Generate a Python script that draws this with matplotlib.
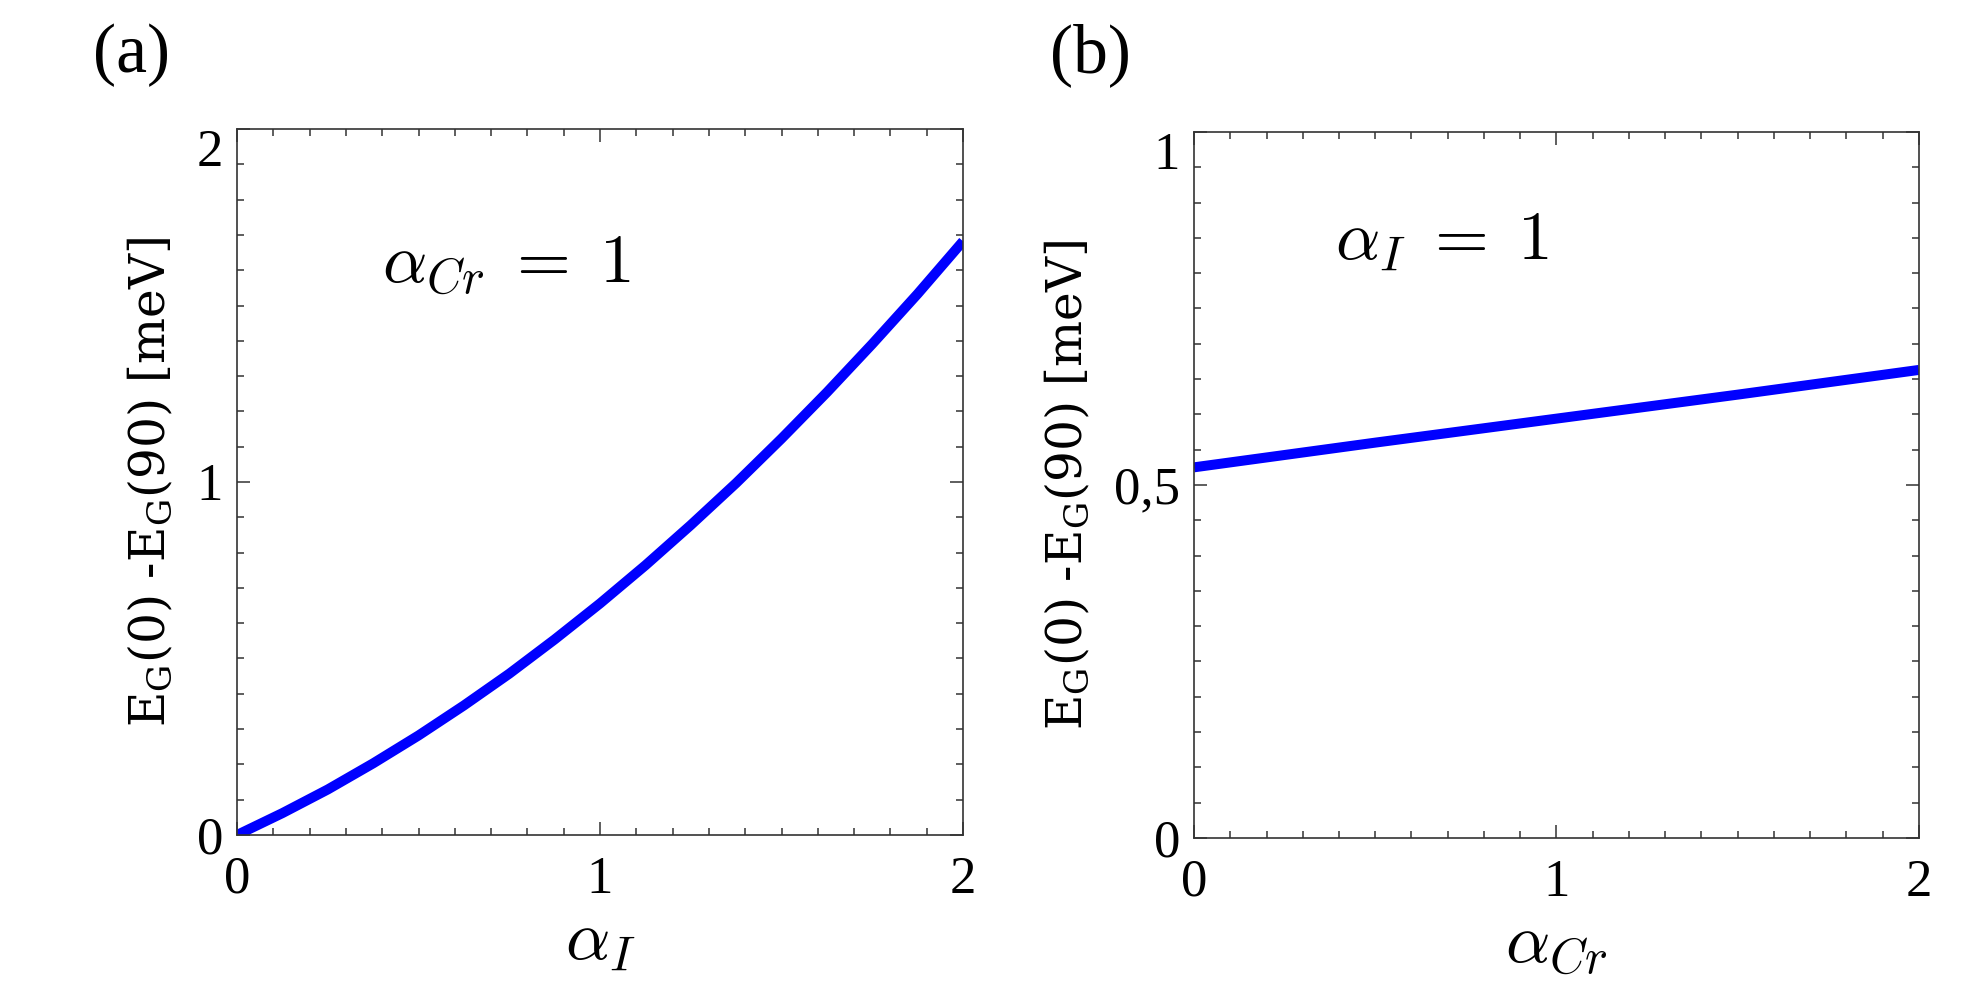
#!/usr/bin/env python3
"""Two-panel figure: E_G(0) - E_G(90) versus alpha_I and alpha_Cr."""

import matplotlib
matplotlib.use("Agg")
import matplotlib.pyplot as plt
from matplotlib.ticker import MultipleLocator, FixedLocator

# (a) energy difference vs alpha_I at alpha_Cr = 1
alpha_i = [0.0, 0.125, 0.25, 0.375, 0.5, 0.625, 0.75, 0.875, 1.0,
           1.125, 1.25, 1.375, 1.5, 1.625, 1.75, 1.875, 2.0]
de_a = [0.000, 0.062, 0.129, 0.203, 0.282, 0.367, 0.457, 0.554, 0.656,
        0.764, 0.878, 0.997, 1.123, 1.254, 1.391, 1.533, 1.682]

# (b) energy difference vs alpha_Cr at alpha_I = 1
alpha_cr = [0.0, 0.5, 1.0, 1.5, 2.0]
de_b = [0.525, 0.560, 0.594, 0.628, 0.663]

xticks = [0, 1, 2]
yticks_a = [0, 1, 2]
yticks_b = [0, 0.5, 1]
yticklabels_b = ["0", "0,5", "1"]

SERIF = "Liberation Serif"
BLUE = "#0000ff"
SPINE = "#333333"
YLABEL = r"E$_\mathrm{G}$(0) -E$_\mathrm{G}$(90) [meV]"


def style_axes(ax, ymax, yminor):
    ax.set_xlim(0, 2)
    ax.set_ylim(0, ymax)
    ax.xaxis.set_major_locator(FixedLocator(xticks))
    ax.xaxis.set_minor_locator(MultipleLocator(0.1))
    ax.yaxis.set_minor_locator(MultipleLocator(yminor))
    ax.tick_params(which="both", direction="in", top=True, right=True,
                   color=SPINE, width=1.1)
    ax.tick_params(which="major", length=9.5)
    ax.tick_params(which="minor", length=5)
    ax.tick_params(axis="x", which="major", pad=15)
    ax.tick_params(axis="y", which="major", pad=10)
    for sp in ax.spines.values():
        sp.set_color(SPINE)
        sp.set_linewidth(1.2)


fig = plt.figure(figsize=(19.69, 9.97), dpi=100)
ax_a = fig.add_axes([0.1204, 0.1625, 0.3687, 0.7081])
ax_b = fig.add_axes([0.6064, 0.1595, 0.3682, 0.7081])

# ---- panel (a)
ax_a.plot(alpha_i, de_a, color=BLUE, lw=7.2, solid_capstyle="butt")
style_axes(ax_a, 2, 0.1)
ax_a.set_yticks(yticks_a)
ax_a.set_yticklabels([str(v) for v in yticks_a])
ax_a.set_xticklabels([str(v) for v in xticks])
ax_a.set_xlabel(r"$\alpha_I$", fontsize=50, math_fontfamily="cm", labelpad=2)
ax_a.set_ylabel(YLABEL, family="DejaVu Serif", math_fontfamily="dejavuserif",
                fontsize=35, labelpad=16)
ax_a.text(0.20, 0.81, r"$\alpha_{Cr}\;=\;1$", transform=ax_a.transAxes,
          fontsize=50, math_fontfamily="cm", va="center", ha="left")

# ---- panel (b)
ax_b.plot(alpha_cr, de_b, color=BLUE, lw=7.2, solid_capstyle="butt")
style_axes(ax_b, 1, 0.05)
ax_b.set_yticks(yticks_b)
ax_b.set_yticklabels(yticklabels_b)
ax_b.set_xticklabels([str(v) for v in xticks])
ax_b.set_xlabel(r"$\alpha_{Cr}$", fontsize=50, math_fontfamily="cm", labelpad=2)
ax_b.set_ylabel(YLABEL, family="DejaVu Serif", math_fontfamily="dejavuserif",
                fontsize=35, labelpad=16)
ax_b.text(0.195, 0.846, r"$\alpha_I\;=\;1$", transform=ax_b.transAxes,
          fontsize=50, math_fontfamily="cm", va="center", ha="left")

for ax in (ax_a, ax_b):
    for lab in ax.get_xticklabels() + ax.get_yticklabels():
        lab.set_family(SERIF)
        lab.set_fontsize(38)
    # top y label sits inside the frame, hanging from the top edge
    ax.yaxis.get_major_ticks()[-1].label1.set_va("top")

fig.text(132 / 1969, 1 - 55 / 997, "(a)", family=SERIF, fontsize=50,
         ha="center", va="center")
fig.text(1090 / 1969, 1 - 55 / 997, "(b)", family=SERIF, fontsize=50,
         ha="center", va="center")

fig.savefig("out.png", dpi=100)
plt.close(fig)
